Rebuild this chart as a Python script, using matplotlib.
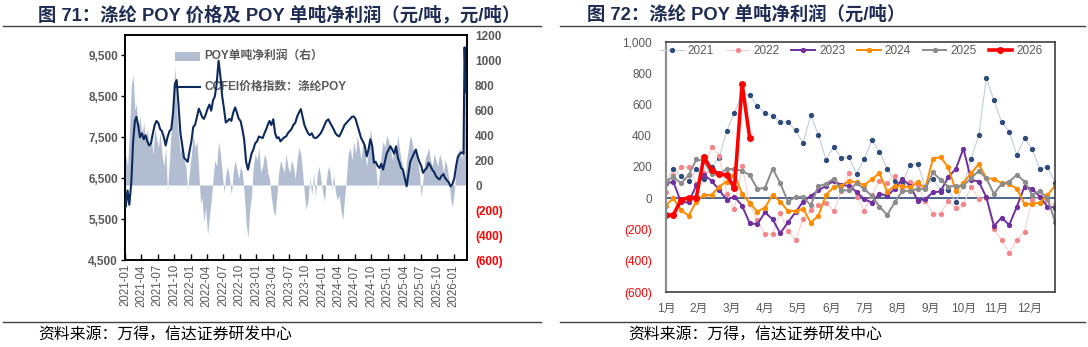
import matplotlib
matplotlib.use('Agg')
import matplotlib.pyplot as plt
import pandas as pd
from matplotlib.patches import Rectangle
from matplotlib.lines import Line2D

plt.rcParams['font.family'] = ['Liberation Sans', 'Noto Sans CJK SC', 'DejaVu Sans']
plt.rcParams['axes.unicode_minus'] = False

# ---------------- Left chart data ----------------
left_title = '图 71：涤纶 POY 价格及 POY 单吨净利润（元/吨，元/吨）'
right_title = '图 72：涤纶 POY 单吨净利润（元/吨）'
source_text = '资料来源：万得，信达证券研发中心'
price_label = 'CCFEI价格指数：涤纶POY'
profit_label = 'POY单吨净利润（右）'

months = [f'{y}-{m:02d}' for y in range(2021, 2027) for m in range(1, 13)][:62]
dates = ['2021-01-01'] + [f'{mo}-{d:02d}' for mo in months for d in (5, 15, 25)] + ['2026-03-03', '2026-03-10']

price = [
    6000,
    5800, 6200, 5850, 6400, 7400, 7900, 8000, 7800, 7500, 7600, 7450, 7550,
    7400, 7300, 7350, 7600, 7800, 7900, 7850, 7700, 7650, 7500, 7300, 7500,
    7650, 7700, 8100, 8800, 8900, 8300, 7600, 7300, 7000, 6950, 6900, 7150,
    7400, 7750, 7800, 8000, 8200, 8100, 8000, 7950, 8050, 8200, 8300, 8150,
    8400, 8500, 8800, 9370, 9000, 8500, 8200, 7860, 7900, 7950, 7900, 8100,
    8230, 8100, 7950, 7900, 7700, 7450, 6900, 6710, 6900, 7100, 7200, 7350,
    7400, 7520, 7500, 7480, 7600, 7700, 7800, 7900, 7800, 7940, 7600, 7480,
    7500, 7400, 7450, 7500, 7520, 7600, 7650, 7700, 7800, 7850, 8000, 8100,
    8190, 8000, 7800, 7690, 7600, 7550, 7600, 7500, 7480, 7500, 7550, 7600,
    7700, 7800, 7900, 7940, 7850, 7770, 7700, 7600, 7550, 7520, 7600, 7700,
    7800, 7850, 7900, 7950, 8000, 8010, 7950, 7800, 7650, 7480, 7400, 7300,
    7030, 7200, 7450, 7300, 6880, 6900, 6800, 6750, 6850, 6710, 6900, 7100,
    7200, 7280, 7200, 7100, 7280, 7000, 6900, 6750, 6710, 6500, 6300, 6600,
    6900, 7000, 7100, 7200, 7030, 6900, 6800, 6630, 6700, 6750, 6880, 6800,
    6700, 6650, 6550, 6500, 6470, 6550, 6600, 6500, 6450, 6400, 6300, 6350,
    6500, 6800, 7030, 7100, 7130, 7100,
    9700, 8600,
]

profit = [
    100,
    250, 150, 400, 800, 880, 600, 650, 450, 550, 400, 500, 350,
    450, 300, 420, 250, 450, 380, 300, 420, 250, 150, 300, -50,
    200, 450, 700, 950, 600, 400, 250, 350, 200, 150, -30, 100,
    250, 400, 300, 350, 100, -150, -100, -300, -180, -400, -250, -120,
    50, 200, 150, 350, 250, 100, -60, 80, 150, 50, -80, 100,
    200, 120, 50, 150, 100, -60, -300, -420, -200, -80, 150, 250,
    200, 300, 100, 150, 250, 200, 100, 50, -100, -200, -250, -80,
    100, 200, 150, 100, 250, 150, 100, 200, 150, 50, 200, 300,
    250, 100, -80, -200, -120, 50, -80, 100, -100, 80, 150, 50,
    -60, -130, 50, 150, 100, -30, 80, -50, -120, -80, -200, -280,
    -100, 50, 250, 300, 200, 350, 250, 400, 300, 200, 350, 250,
    150, 300, 450, 350, 250, 150, -40, 100, 250, 350, 300, 400,
    350, 300, 200, 300, 250, 400, 300, 200, 150, 50, 200, 300,
    400, 350, 250, 300, 200, 100, -100, 50, 200, 250, 300, 200,
    150, 250, 200, 150, 250, 200, 100, 200, 150, 50, -100, -180,
    -50, 150, 250, 300, 200, 350,
    1050, 800,
]

left_xticks = [f'{y}-{m:02d}' for y in range(2021, 2027) for m in (1, 4, 7, 10)][:21]

# ---------------- Right chart data ----------------
years = ['2021', '2022', '2023', '2024', '2025', '2026']
y2021 = [100, 190, 140, 110, 185, 124, 199, 260, 432, 548, 670, 658, 592, 544, 529, 491, 487, 434, 353, 530,
         406, 246, 331, 256, 263, 156, 252, 370, 297, 190, 111, 100, 212, 220, 70, 122, 55, 53, -21, 81,
         252, 402, 769, 626, 487, 427, 276, 383, 314, 186, 201, 100]
y2022 = [43, 150, 197, 203, 90, 160, 330, 271, 26, -68, 209, -40, -139, -229, -229, -96, -209, -269, -132, -75,
         -45, -28, -83, 49, 160, 11, -79, 20, 113, 100, 145, 68, 107, 85, -20, -100, -100, -15, -64, -38,
         70, -2, 0, -199, -267, -348, -267, -214, -10, 5, -10, -43]
y2023 = [96, 105, -26, -26, 82, 150, 112, 53, -11, 11, -48, -160, -166, -90, -135, -224, -155, -90, -21, 15,
         50, 80, 111, 85, 80, 40, -6, -28, 30, 15, 60, 124, 81, -15, -6, 38, 43, 135, 187, 318,
         118, 107, 6, -177, -124, -171, -53, 75, 60, 11, -53, -60]
y2024 = [-47, 0, -75, -113, -21, 21, 21, 75, 107, 150, 30, -32, -85, -60, 21, -21, -81, -81, -68, -156,
         -111, 21, 71, 79, 111, 103, 85, 122, 160, 43, 79, 79, 70, 103, 64, 252, 263, 199, 47, 100,
         160, 218, 128, 124, 96, 92, 60, -36, -36, -28, 21, 79]
y2025 = [107, 137, 96, 147, 248, 240, 152, 155, 187, 187, 176, 148, 60, 66, 190, 96, -21, 8, 8, -45,
         77, 92, 125, 51, 50, 95, 60, 15, -53, -107, -26, 47, 47, 60, 60, 165, 118, 75, 79, 81,
         128, 175, 128, 28, 92, 107, 150, 107, 21, 47, 0, -150]
y2026 = [-109, -107, -11, 4, 4, 263, 182, 154, 150, 64, 731, 385]
month_labels = [f'{i}月' for i in range(1, 13)]

# ---------------- Styles ----------------
GRAY = '#595959'
RED = '#ff0000'
NAVY = '#0e2a5c'
AREA = '#b2bdd1'
TITLE_C = '#1f2d55'

fig = plt.figure(figsize=(10.88, 3.47), dpi=100)

# ---- Left chart ----
ax = fig.add_axes([0.1149, 0.2507, 0.3141, 0.6484])
ax2 = ax.twinx()
ax.set_zorder(ax2.get_zorder() + 1)
ax.patch.set_visible(False)

d = pd.to_datetime(dates)
ax2.fill_between(d, 0, profit, color=AREA, lw=0, zorder=1)
ax.plot(d, price, color=NAVY, lw=1.5, zorder=3)

ax.set_xlim(pd.Timestamp('2021-01-01'), pd.Timestamp('2026-03-15'))
ax.set_ylim(4500, 10000)
ax.set_yticks(range(4500, 10000, 1000))
ax.set_yticklabels([f'{v:,}' for v in range(4500, 10000, 1000)], color=GRAY, fontweight='bold', fontsize=8.5)
ax2.set_ylim(-600, 1200)
rt = list(range(-600, 1201, 200))
ax2.set_yticks(rt)
ax2.set_yticklabels([f'({abs(v)})' if v < 0 else f'{v}' for v in rt], fontweight='bold', fontsize=8.5)
for lab, v in zip(ax2.get_yticklabels(), rt):
    lab.set_color(RED if v < 0 else GRAY)

xt = pd.to_datetime([s + '-01' for s in left_xticks])
ax.set_xticks(xt)
ax.set_xticklabels(left_xticks, rotation=90, color=GRAY, fontsize=8.3)
ax.tick_params(axis='x', direction='in', length=4, width=1, pad=3)
ax.tick_params(axis='y', direction='out', length=3, width=1, pad=2)
ax2.tick_params(axis='y', direction='out', length=0, pad=6)
for a in (ax, ax2):
    for s in a.spines.values():
        s.set_color('#000000')
        s.set_linewidth(1.2)

# manual legend
ax2.add_patch(Rectangle((0.146, 0.885), 0.074, 0.04, transform=ax2.transAxes, color=AREA, lw=0, zorder=2))
ax2.text(0.232, 0.906, profit_label, transform=ax2.transAxes, color=GRAY, fontsize=8.5, va='center', fontweight='bold')
ax2.add_line(Line2D([0.146, 0.22], [0.769, 0.769], transform=ax2.transAxes, color=NAVY, lw=1.5))
ax2.text(0.232, 0.769, price_label, transform=ax2.transAxes, color=GRAY, fontsize=8.5, va='center', fontweight='bold')

# ---- Right chart ----
ax3 = fig.add_axes([0.6119, 0.1585, 0.3578, 0.7205])
series = [y2021, y2022, y2023, y2024, y2025, y2026]
styles = [
    dict(color='#c3cddc', lw=0.8, marker='o', ms=2.8, mfc='#2f4b7c', mec='#2f4b7c'),
    dict(color='#f9cfcf', lw=0.8, marker='o', ms=2.8, mfc='#f4868a', mec='#f4868a'),
    dict(color='#7030a0', lw=1.4, marker='o', ms=2.8),
    dict(color='#ff8c00', lw=1.4, marker='o', ms=2.8),
    dict(color='#8c8c8c', lw=1.4, marker='o', ms=2.8),
    dict(color='#ff0000', lw=2.6, marker='o', ms=4),
]
handles = []
for yr, vals, st in zip(years, series, styles):
    h, = ax3.plot(range(len(vals)), vals, label=yr, **st)
    handles.append(h)
ax3.axhline(0, color='#2f4b7c', lw=1.2, zorder=1)
ax3.set_xlim(0, 51)
ax3.set_ylim(-600, 1000)
yt = list(range(-600, 1001, 200))
ax3.set_yticks(yt)
ax3.set_yticklabels([f'({abs(v)})' if v < 0 else f'{v:,}' for v in yt], fontsize=8.5)
for lab, v in zip(ax3.get_yticklabels(), yt):
    lab.set_color(RED if v < 0 else GRAY)
ax3.set_xticks([i * 52 / 12 for i in range(12)])
ax3.set_xticklabels(month_labels, color=GRAY, fontsize=8.5)
ax3.tick_params(axis='x', length=0, pad=8)
ax3.tick_params(axis='y', length=0, pad=10)
for k, s in ax3.spines.items():
    s.set_color('#404040')
    s.set_linewidth(1.2)
ax3.spines['left'].set_color('#8c8c8c')
ax3.spines['left'].set_linewidth(1.6)
leg = ax3.legend(handles=handles, loc='center left', bbox_to_anchor=(-0.015, 0.965), ncol=6, frameon=False,
                 fontsize=8.5, handlelength=2.0, columnspacing=1.0, handletextpad=0.35, borderaxespad=0,
                 borderpad=0)
for t in leg.get_texts():
    t.set_color(GRAY)

# ---- Titles, rules, sources ----
fig.text(0.035, 0.958, left_title, fontsize=13.2, fontweight='bold', color=TITLE_C, va='center')
fig.text(0.5395, 0.958, right_title, fontsize=13.2, fontweight='bold', color=TITLE_C, va='center')
for x0, x1 in ((0.003, 0.497), (0.515, 0.997)):
    fig.add_artist(Line2D([x0, x1], [0.925, 0.925], color='#404040', lw=1.0))
    fig.add_artist(Line2D([x0, x1], [0.072, 0.072], color='#404040', lw=1.0))
fig.text(0.035, 0.038, source_text, fontsize=11.4, color='#000000', va='center', style='italic')
fig.text(0.577, 0.038, source_text, fontsize=11.4, color='#000000', va='center', style='italic')

fig.savefig('out.png', dpi=100)
